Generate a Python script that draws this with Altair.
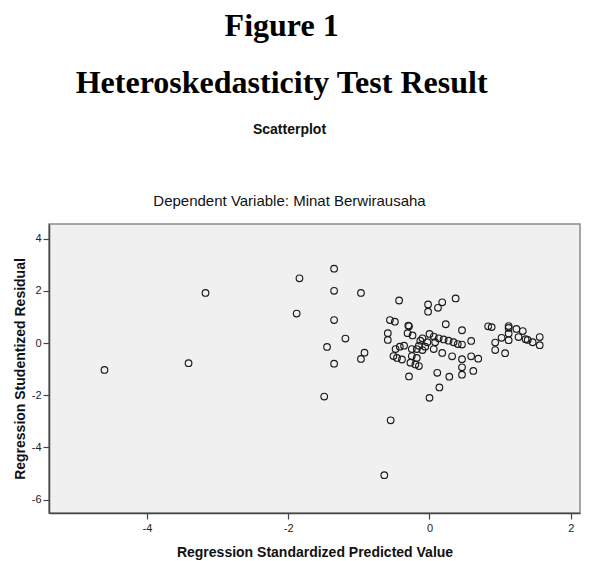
import altair as alt
import pandas as pd

# Regression Standardized Predicted Value (x) and Regression Studentized Residual (y)
pred = [-4.60, -3.41, -3.17, -1.88, -1.84, -1.35, -1.35, -0.97, -1.35, -0.43,
        -1.19, -1.45, -1.35, -0.92, -0.97, -1.49, 0.00, 0.14, -0.55, -0.64,
        -0.02, -0.02, 0.12, 0.18, 0.37, -0.56, -0.49, -0.30, -0.29, 0.23,
        0.46, -0.59, -0.59, -0.31, -0.24, 0.00, 0.06, 0.13, 0.20, 0.27,
        0.34, 0.40, 0.46, -0.13, -0.03, -0.10, 0.08, 0.59, -0.15, -0.06,
        0.06, -0.10, -0.25, -0.18, -0.48, -0.42, -0.36, -0.51, -0.46, -0.39,
        -0.25, -0.18, -0.27, -0.20, -0.15, 0.18, 0.32, 0.46, 0.59, 0.69,
        0.46, 0.46, 0.62, 0.11, 0.28, -0.29, 0.83, 0.88, 1.12, 1.12,
        1.23, 1.32, 1.12, 1.02, 0.93, 1.12, 1.26, 1.36, 1.39, 1.46,
        1.56, 1.56, 0.93, 1.07]
resid = [-1.03, -0.77, 1.92, 1.13, 2.48, 2.85, 2.00, 1.92, 0.88, 1.63,
         0.17, -0.15, -0.79, -0.37, -0.61, -2.05, -2.10, -1.70, -2.96, -5.06,
         1.48, 1.20, 1.35, 1.56, 1.71, 0.88, 0.82, 0.67, 0.64, 0.72,
         0.49, 0.38, 0.12, 0.38, 0.29, 0.35, 0.25, 0.18, 0.14, 0.09,
         0.03, -0.04, -0.06, 0.09, 0.03, 0.18, 0.03, 0.08, -0.10, -0.14,
         -0.23, -0.27, -0.23, -0.23, -0.23, -0.14, -0.10, -0.50, -0.57, -0.63,
         -0.50, -0.57, -0.75, -0.82, -0.88, -0.38, -0.51, -0.62, -0.51, -0.60,
         -0.93, -1.21, -1.07, -1.14, -1.29, -1.28, 0.64, 0.61, 0.65, 0.58,
         0.54, 0.46, 0.37, 0.20, 0.02, 0.11, 0.23, 0.15, 0.12, 0.03,
         0.23, -0.08, -0.27, -0.39]

x_ticks = [-4, -2, 0, 2]
y_ticks = [-6, -4, -2, 0, 2, 4]

df = pd.DataFrame({"pred": pred, "resid": resid})

SANS = "Liberation Sans"
SERIF = "Liberation Serif"

points = alt.Chart(df).mark_point(
    shape="circle", filled=False, size=44, stroke="#1a1a1a", strokeWidth=1.15, opacity=1
).encode(
    x=alt.X("pred:Q", scale=alt.Scale(domain=[-5.385, 2.13], nice=False, zero=False),
            axis=alt.Axis(values=x_ticks, title="Regression Standardized Predicted Value",
                          labelExpr="'' + datum.value",
                          grid=False, tickSize=6, labelPadding=3, titlePadding=12)),
    y=alt.Y("resid:Q", scale=alt.Scale(domain=[-6.51, 4.56], nice=False, zero=False),
            axis=alt.Axis(values=y_ticks, title="Regression Studentized Residual",
                          labelExpr="'' + datum.value",
                          grid=False, tickSize=6, labelPadding=2, titlePadding=4)),
).properties(
    width=531, height=289,
    title=alt.TitleParams(
        "Scatterplot", font=SANS, fontSize=14, fontWeight="bold", color="#111",
        subtitle="Dependent Variable: Minat Berwirausaha", subtitleFont=SANS,
        subtitleFontSize=15, subtitleFontWeight="normal", subtitleColor="#111",
        subtitlePadding=57, anchor="middle", dx=-25, offset=15),
)

chart = alt.vconcat(points).properties(
    title=alt.TitleParams(
        text=["Figure 1", "Heteroskedasticity Test Result"],
        font=SERIF, fontSize=32, fontWeight="bold", color="#000", lineHeight=57,
        anchor="middle", dx=-15, offset=22,
    ),
    padding={"left": 4, "top": 2, "right": 0, "bottom": 0},
).configure_view(
    fill="#f0f0f0", stroke="#8a8a8a", strokeWidth=1.5
).configure_axis(
    domainColor="#444", domainWidth=1.5, tickColor="#444", tickWidth=1.2,
    labelFont=SANS, labelFontSize=11, labelColor="#222",
    titleFont=SANS, titleFontSize=14, titleFontWeight="bold", titleColor="#111",
)

chart.save("out.html", embed_options={"renderer": "svg", "actions": False})
